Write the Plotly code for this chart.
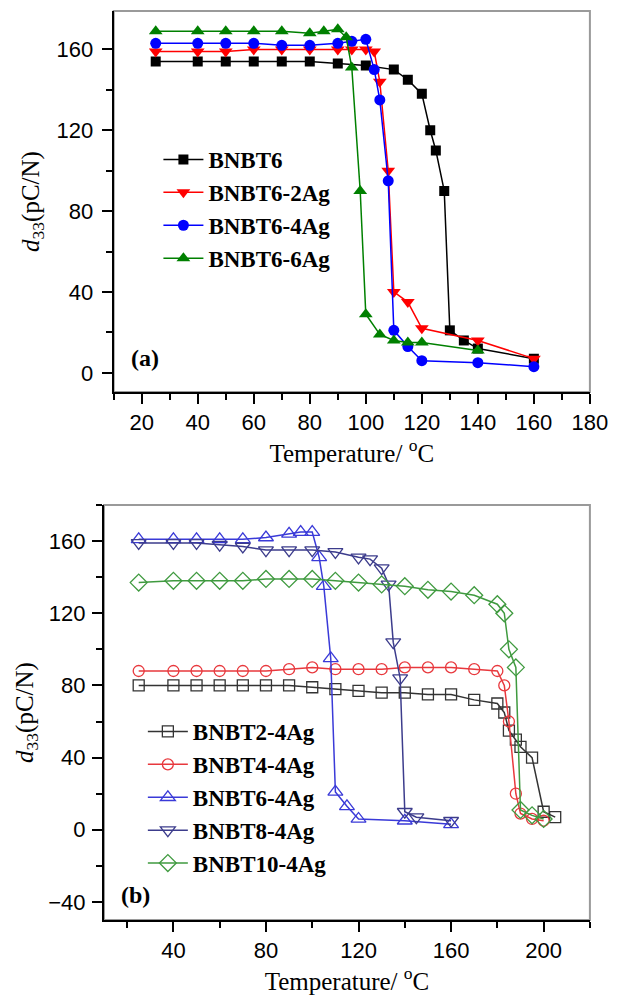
import plotly.graph_objects as go

# ---------------- data: panel (a) ----------------
a_names = ["BNBT6", "BNBT6-2Ag", "BNBT6-4Ag", "BNBT6-6Ag"]
a_x_bnbt6 = [25, 40, 50, 60, 70, 80, 90, 100, 110, 115, 120, 123, 125, 128, 130, 135, 140, 160]
a_y_bnbt6 = [154, 154, 154, 154, 154, 154, 153, 152, 150, 145, 138, 120, 110, 90, 21, 16, 12, 7]
a_x_2ag = [25, 40, 50, 60, 70, 80, 90, 95, 100, 103, 105, 108, 110, 115, 120, 140, 160]
a_y_2ag = [159, 159, 159, 160, 160, 160, 160, 160, 160, 159, 144, 100, 40, 35, 22, 16, 7]
a_x_4ag = [25, 40, 50, 60, 70, 80, 90, 95, 100, 103, 105, 108, 110, 115, 120, 140, 160]
a_y_4ag = [163, 163, 163, 163, 162, 162, 163, 164, 165, 150, 135, 95, 21, 13, 6, 5, 3]
a_x_6ag = [25, 40, 50, 60, 70, 80, 85, 90, 93, 95, 98, 100, 105, 110, 115, 120, 140]
a_y_6ag = [169, 169, 169, 169, 169, 168, 169, 170, 166, 151, 90, 29, 19, 16, 15, 15, 11]

# ---------------- data: panel (b) ----------------
b_names = ["BNBT2-4Ag", "BNBT4-4Ag", "BNBT6-4Ag", "BNBT8-4Ag", "BNBT10-4Ag"]
b_x_2 = [25, 40, 50, 60, 70, 80, 90, 100, 110, 120, 130, 140, 150, 160, 170, 180, 183, 185, 188, 190, 195, 200, 205]
b_y_2 = [80, 80, 80, 80, 80, 80, 80, 79, 78, 77, 76, 76, 75, 75, 72, 70, 65, 55, 50, 46, 40, 10, 7]
b_x_4 = [25, 40, 50, 60, 70, 80, 90, 100, 110, 120, 130, 140, 150, 160, 170, 180, 183, 185, 188, 190, 195, 200]
b_y_4 = [88, 88, 88, 88, 88, 88, 89, 90, 89, 89, 89, 90, 90, 90, 89, 88, 80, 60, 20, 9, 6, 5]
b_x_6 = [25, 40, 50, 60, 70, 80, 90, 95, 100, 103, 105, 108, 110, 115, 120, 140, 160]
b_y_6 = [161, 161, 161, 161, 161, 162, 164, 165, 165, 151, 135, 95, 21, 13, 6, 5, 3]
b_x_8 = [25, 40, 50, 60, 70, 80, 90, 100, 110, 120, 125, 130, 133, 135, 138, 140, 145, 160]
b_y_8 = [159, 159, 159, 158, 157, 155, 155, 155, 154, 151, 150, 145, 136, 104, 84, 10, 7, 5]
b_x_10 = [25, 40, 50, 60, 70, 80, 90, 100, 110, 120, 130, 140, 150, 160, 170, 180, 183, 185, 188, 190, 195, 200]
b_y_10 = [137, 138, 138, 138, 138, 139, 139, 139, 138, 137, 136, 135, 133, 132, 130, 125, 120, 100, 90, 11, 8, 6]

# ---------------- styles ----------------
a_colors = ["#000000", "#ff0000", "#0000ff", "#008000"]
a_symbols = ["square", "triangle-down", "circle", "triangle-up"]
a_sizes = [10, 12, 11, 12]
b_colors = ["#333333", "#e8383d", "#3a3ad8", "#3c3c8c", "#3f9a3f"]
b_symbols = ["square-open", "circle-open", "triangle-up-open", "triangle-down-open", "diamond-open"]
b_sizes = [11, 11, 13, 13, 13]

W, H = 639, 996
def px_x(p):
    return p / W
def px_y(p):
    return 1 - p / H

fig = go.Figure()

a_xs = [a_x_bnbt6, a_x_2ag, a_x_4ag, a_x_6ag]
a_ys = [a_y_bnbt6, a_y_2ag, a_y_4ag, a_y_6ag]
for i, name in enumerate(a_names):
    fig.add_trace(go.Scatter(
        x=a_xs[i], y=a_ys[i], name=name, mode="lines+markers",
        xaxis="x", yaxis="y", legend="legend",
        line=dict(color=a_colors[i], width=1.5),
        marker=dict(symbol=a_symbols[i], size=a_sizes[i], color=a_colors[i]),
    ))

b_xs = [b_x_2, b_x_4, b_x_6, b_x_8, b_x_10]
b_ys = [b_y_2, b_y_4, b_y_6, b_y_8, b_y_10]
for i, name in enumerate(b_names):
    fig.add_trace(go.Scatter(
        x=b_xs[i], y=b_ys[i], name=name, mode="lines+markers",
        xaxis="x2", yaxis="y2", legend="legend2",
        line=dict(color=b_colors[i], width=1.5),
        marker=dict(symbol=b_symbols[i], size=b_sizes[i], color=b_colors[i],
                    line=dict(width=1.3, color=b_colors[i])),
    ))

tickfont = dict(family="Liberation Sans, Arial", size=22, color="#000")
titlefont = dict(family="Liberation Serif, Times New Roman", size=25, color="#000")
ytitle = "<i>d</i><sub>33</sub>(pC/N)"
xtitle = "Temperature/ <sup>o</sup>C"

common_axis = dict(showline=True, linecolor="#000", linewidth=2, ticks="outside",
                   ticklen=10, tickwidth=1.5, tickcolor="#000", showgrid=False,
                   zeroline=False, tickfont=tickfont)

fig.update_layout(
    width=W, height=H, margin=dict(l=0, r=0, t=0, b=0),
    paper_bgcolor="white", plot_bgcolor="white",
    xaxis=dict(domain=[px_x(117), px_x(607)], range=[10, 180], anchor="y",
               tickmode="array", tickvals=[20, 40, 60, 80, 100, 120, 140, 160, 180],
               minor=dict(tickmode="array", tickvals=[10, 30, 50, 70, 90, 110, 130, 150, 170],
                          ticks="outside", ticklen=6, tickwidth=1.5, tickcolor="#000"),
               title=dict(text=xtitle, font=titlefont, standoff=0),
               **common_axis),
    yaxis=dict(domain=[px_y(392), px_y(11)], range=[-9.5, 179], anchor="x",
               tickmode="array", tickvals=[0, 40, 80, 120, 160],
               minor=dict(tickmode="array", tickvals=[20, 60, 100, 140],
                          ticks="outside", ticklen=6, tickwidth=1.5, tickcolor="#000"),
               ticklabelstandoff=4,
               title=dict(text=ytitle, font=titlefont, standoff=10),
               **common_axis),
    xaxis2=dict(domain=[px_x(107), px_x(607)], range=[10, 220], anchor="y2",
                tickmode="array", tickvals=[40, 80, 120, 160, 200],
                minor=dict(tickmode="array", tickvals=[20, 60, 100, 140, 180, 220],
                           ticks="outside", ticklen=6, tickwidth=1.5, tickcolor="#000"),
                title=dict(text=xtitle, font=titlefont, standoff=2),
                **common_axis),
    yaxis2=dict(domain=[px_y(920), px_y(505)], range=[-50, 180], anchor="x2",
                tickmode="array", tickvals=[-40, 0, 40, 80, 120, 160],
                minor=dict(tickmode="array", tickvals=[-20, 20, 60, 100, 140, 180],
                           ticks="outside", ticklen=6, tickwidth=1.5, tickcolor="#000"),
                ticklabelstandoff=2,
                title=dict(text=ytitle, font=titlefont, standoff=8),
                **common_axis),
    legend=dict(x=px_x(163), y=px_y(138), xanchor="left", yanchor="top",
                bgcolor="rgba(0,0,0,0)", itemwidth=40,
                font=dict(family="Liberation Serif, Times New Roman", size=23,
                          color="#000", weight="bold")),
    legend2=dict(x=px_x(147), y=px_y(710), xanchor="left", yanchor="top",
                 bgcolor="rgba(0,0,0,0)", itemwidth=40,
                 font=dict(family="Liberation Serif, Times New Roman", size=23,
                           color="#000", weight="bold")),
    showlegend=True,
)

# gray frame on top/right (drawn under the black axis lines)
for xr, yr in (("x domain", "y domain"), ("x2 domain", "y2 domain")):
    fig.add_shape(type="rect", xref=xr, yref=yr, x0=0, y0=0, x1=1, y1=1,
                  line=dict(color="#9a9a9a", width=2), layer="below")

fig.add_annotation(text="<b>(a)</b>", xref="paper", yref="paper",
                   x=px_x(133), y=px_y(358), xanchor="left", yanchor="middle",
                   showarrow=False,
                   font=dict(family="Liberation Serif, Times New Roman", size=24, color="#000"))
fig.add_annotation(text="<b>(b)</b>", xref="paper", yref="paper",
                   x=px_x(122), y=px_y(895), xanchor="left", yanchor="middle",
                   showarrow=False,
                   font=dict(family="Liberation Serif, Times New Roman", size=24, color="#000"))

fig.write_html("out.html")
